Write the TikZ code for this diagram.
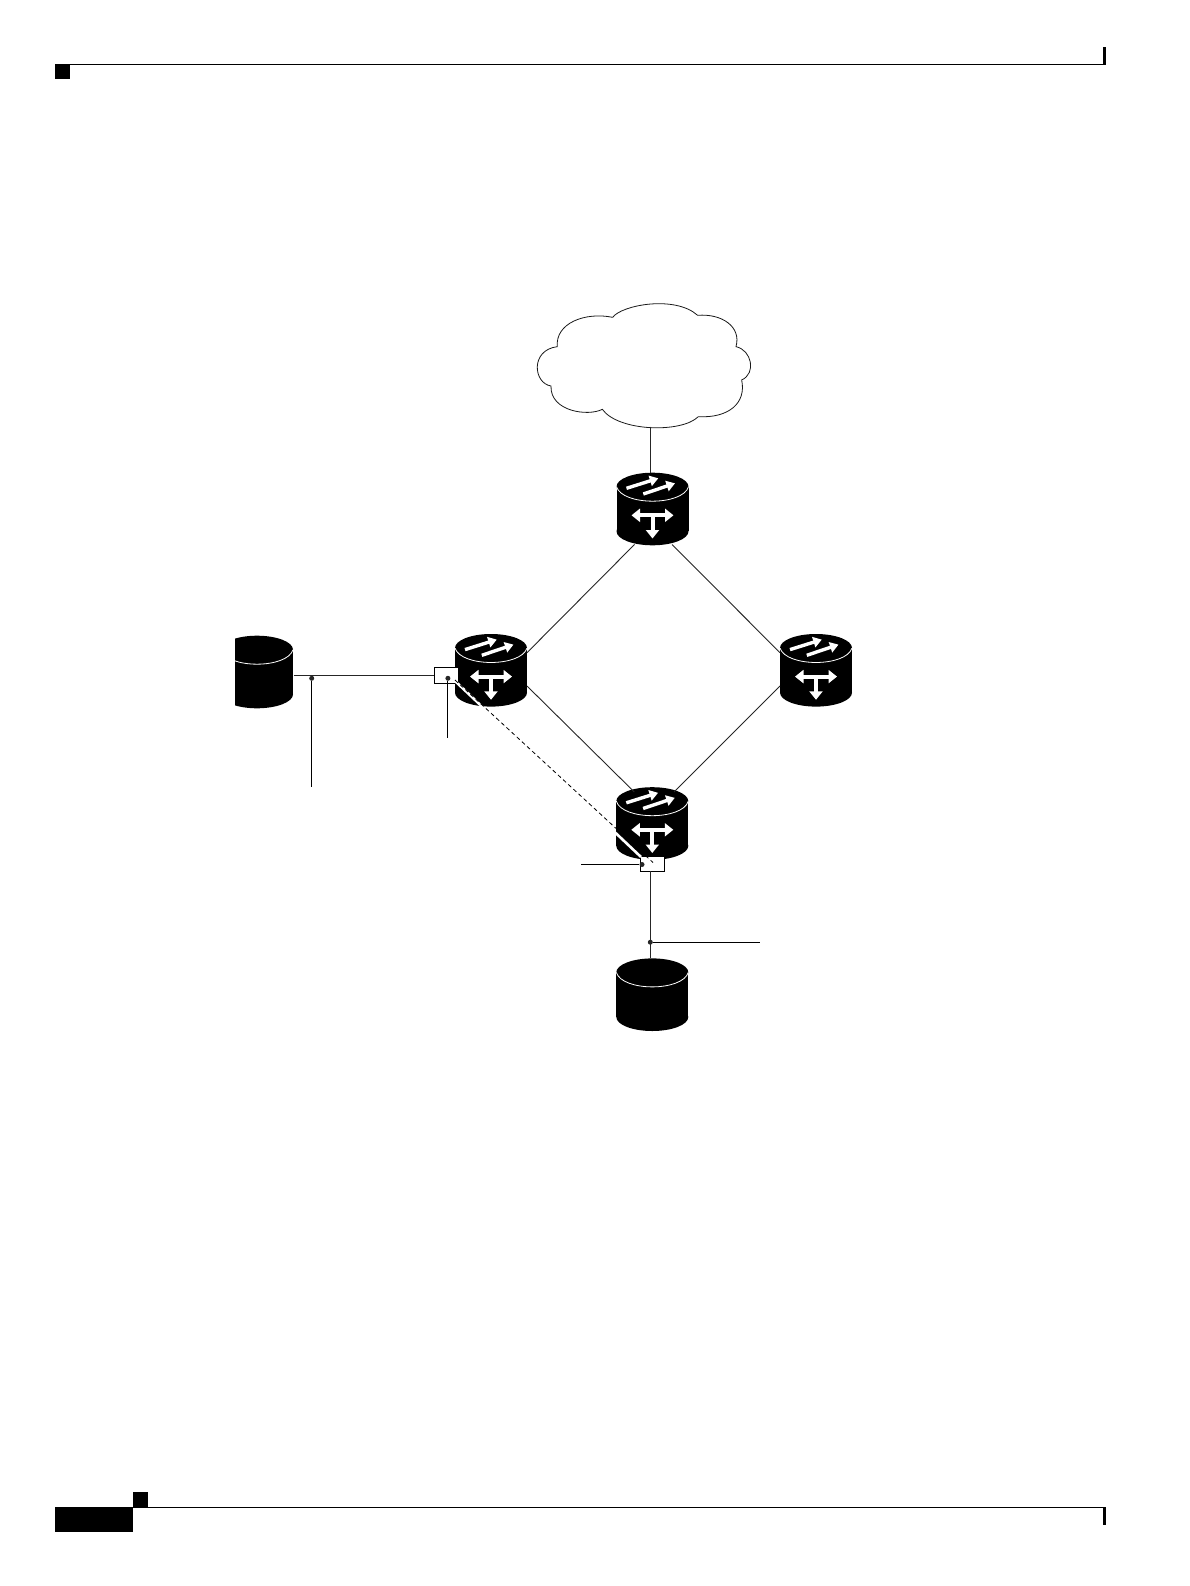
\documentclass[tikz,border=0pt]{standalone}
\usepackage{tikz}
\usetikzlibrary{arrows.meta,positioning}
\tikzset{
  drum/.style={minimum width=73pt,minimum height=73pt,inner sep=0pt,outer sep=0pt,
    path picture={
      \begin{scope}[shift={(path picture bounding box.center)}]
        \fill[black] (0,-22.3) ellipse [x radius=36,y radius=14];
        \fill[black] (0,22.3) ellipse [x radius=36,y radius=14];
        \fill[black] (-36,-22.3) rectangle (36,22.3);
        \draw[white,line width=.8pt] (-36,-22.3) .. controls (-30,-3) and (30,-3) .. (36,-22.3);
      \end{scope}
    }},
  glyph/.style={white,line width=3.4pt,-{Triangle[width=10.5pt,length=8.5pt]}},
  tbox/.style={draw=black,fill=white,line width=.9pt,minimum width=24pt,inner sep=0pt,outer sep=0pt},
  link/.style={black!85,line width=.9pt},
  leader/.style={black,line width=1pt},
  tap/.style={circle,fill=black!85,minimum size=5pt,inner sep=0pt},
}
\begin{document}
\begin{tikzpicture}[x=1pt,y=-1pt]
    \useasboundingbox (0,0) rectangle (1190,1586);
    % page furniture
    \fill[white] (0,0) rectangle (1190,1586);
    \fill[black] (55,64) rectangle (70,79);
    \draw[line width=1pt] (70,64.5) -- (1104,64.5);
    \fill[black] (1103.3,46.7) rectangle (1106,65);
    \fill[black] (55,1507) rectangle (132.7,1532);
    \fill[black] (132.7,1492) rectangle (148,1507.5);
    \draw[line width=1pt] (148,1507.5) -- (1104,1507.5);
    \fill[black] (1103.3,1507) rectangle (1106,1525);
    % cloud
    \begin{scope}[shift={(525,290)},x=.3333pt,y=-.3333pt]
      \draw[line width=.8pt,black!90] (263,82) .. controls (290,45) and (450,15) .. (518,76)
        .. controls (590,70) and (650,110) .. (633,170)
        .. controls (680,180) and (695,250) .. (650,270)
        .. controls (665,340) and (610,385) .. (520,380)
        .. controls (470,430) and (280,425) .. (232,358)
        .. controls (190,380) and (75,365) .. (78,288)
        .. controls (25,280) and (15,180) .. (97,170)
        .. controls (90,100) and (180,65) .. (263,82);
    \end{scope}
    \coordinate (cloudbot) at (650.3,426.7);
    % routers
    \foreach \n/\x/\y in {rtrtop/652.5/509,rtrleft/491/670.3,rtrright/816/670.3,rtrbot/652.3/823.5}
    {
      \node[drum] (\n) at (\x,\y) {};
      \draw[glyph] ([shift={(-26,-20.7)}]\n.center) -- ([shift={(5.8,-30.7)}]\n.center);
      \draw[glyph] ([shift={(-9.2,-15)}]\n.center) -- ([shift={(22.5,-25.7)}]\n.center);
      \draw[white,line width=4pt,{Triangle[width=13pt,length=8.5pt]}-{Triangle[width=13pt,length=8.5pt]}] ([shift={(-21,6.3)}]\n.center) -- ([shift={(21,6.3)}]\n.center);
      \draw[white,line width=4pt,-{Triangle[width=13pt,length=8.5pt]}] ([shift={(0,6.3)}]\n.center) -- ([shift={(0,29.5)}]\n.center);
    }
    % servers
    \node[drum] (srvbot) at (652.3,994.7) {};
    \begin{scope}
      \clip (235,620) rectangle (300,720);
      \node[drum] (srvleft) at (257,672) {};
    \end{scope}
    % links
    \draw[link] (cloudbot) -- (650.3,472.7);
    \draw[link] ([shift={(-18,35.5)}]rtrtop.center) -- ([shift={(36,-17.6)}]rtrleft.center);
    \draw[link] ([shift={(19.5,35.5)}]rtrtop.center) -- ([shift={(-36,-17.6)}]rtrright.center);
    \draw[link] ([shift={(36,15.7)}]rtrleft.center) -- ([shift={(-18,-31.5)}]rtrbot.center);
    \draw[link] ([shift={(-36,15.7)}]rtrright.center) -- ([shift={(21.7,-31.5)}]rtrbot.center);
    % interfaces
    \node[tbox,minimum height=16pt] (ifleft) at (446.2,675.3) {};
    \node[tbox,minimum height=15.3pt] (ifbot) at (652.7,863.7) {};
    \draw[link] (srvleft.east |- ifleft.west) -- (ifleft.west);
    \draw[link] (ifbot.south -| cloudbot) -- (cloudbot |- srvbot.north);
    % tunnel
    \draw[white,line width=2.6pt] (455,681) -- (641,857);
    \draw[black,line width=.8pt,dash pattern=on 4pt off 3pt] (455,680) -- (653,862.5);
    % callouts
    \node[tap] (tapleft) at (311.7,678.3) {};
    \coordinate (endleft) at (311.7,786.7);
    \draw[leader] (tapleft) -- (endleft);
    \node[tap] (tapif) at (447.9,678.3) {};
    \coordinate (endif) at (447.9,738.3);
    \draw[leader] (tapif) -- (endif);
    \node[tap] (tapbot) at (642,864.5) {};
    \coordinate (endbot) at (581,864.5);
    \draw[leader] (tapbot) -- (endbot);
    \node[tap] (tapsrv) at (650.3,942.2) {};
    \coordinate (endsrv) at (760,942.2);
    \draw[leader] (tapsrv) -- (endsrv);
  \end{tikzpicture}
\end{document}
